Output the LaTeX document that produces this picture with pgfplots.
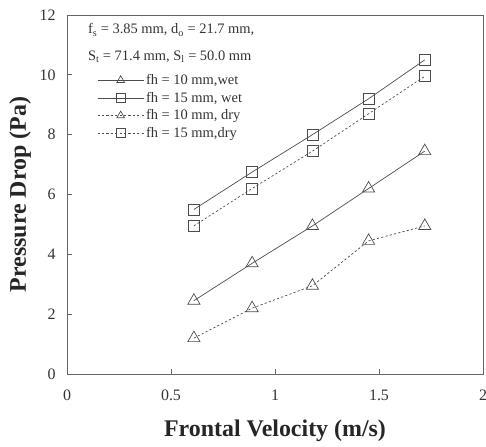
\documentclass[border=0pt]{standalone}
\usepackage{pgfplots}
\pgfplotsset{compat=1.18}
\usepackage{fontspec}
\setmainfont{Liberation Serif}
\begin{document}
\begin{tikzpicture}[x=1bp,y=1bp]
\begin{axis}[
  name=ax,
  scale only axis,
  width=416bp, height=359bp,
  xmin=0, xmax=2, ymin=0, ymax=12,
  xtick={0,0.5,1,1.5,2}, ytick={0,2,4,6,8,10,12},
  xticklabels={0,0.5,1,1.5,2},
  tick align=inside, xtick pos=bottom, ytick pos=left,
  major tick length=5bp,
  /pgf/number format/assume math mode=true,
  ticklabel style={font=\fontsize{16}{18}\selectfont, text=black!80},
  xticklabel style={yshift=-12bp},
  yticklabel style={xshift=-8bp},
  xlabel={\textbf{Frontal Velocity (m/s)}},
  xlabel style={at={(axis description cs:0.5,0)}, anchor=center, yshift=-57bp},
  label style={font=\fontsize{24}{26}\selectfont, text=black!85},
  axis line style={black!60, line width=0.9pt},
  every tick/.style={black!60, line width=0.8pt},
  legend style={draw=none, fill=none, at={(axis cs:0.14,10.12)}, anchor=north west,
    font=\fontsize{14.5}{14.5}\selectfont, row sep=2bp, inner sep=1bp, text=black!80},
  legend cell align=left,
  legend image code/.code={
    \draw[#1, mark=none] (0bp,0bp) -- (46bp,0bp);
    \draw[#1, solid, only marks, mark size=4.5bp] plot coordinates {(23bp,0bp)};
  },
  every axis plot/.append style={black!70, line width=0.7pt, mark options={solid, fill=white, line width=0.7pt}},
]
\addplot[mark=triangle, mark size=7bp] coordinates {(0.61,2.45) (0.89,3.7) (1.18,4.95) (1.45,6.2) (1.72,7.45)};
\addlegendentry{fh = 10 mm,wet}
\addplot[mark=square, mark size=5.5bp] coordinates {(0.61,5.5) (0.89,6.75) (1.18,8.0) (1.45,9.2) (1.72,10.5)};
\addlegendentry{fh = 15 mm, wet}
\addplot[dash pattern=on 2.2pt off 2.2pt, mark=triangle, mark size=7bp] coordinates {(0.61,1.2) (0.89,2.2) (1.18,2.95) (1.45,4.45) (1.72,4.95)};
\addlegendentry{fh = 10 mm, dry}
\addplot[dash pattern=on 2.2pt off 2.2pt, mark=square, mark size=5.5bp] coordinates {(0.61,4.95) (0.89,6.2) (1.18,7.45) (1.45,8.7) (1.72,9.95)};
\addlegendentry{fh = 15 mm,dry}
\node[anchor=west, font=\fontsize{14.5}{16}\selectfont, text=black!80, inner sep=0pt]
  at (axis cs:0.1,11.5) {f\textsubscript{s} = 3.85 mm, d\textsubscript{o} = 21.7 mm,};
\node[anchor=west, font=\fontsize{14.5}{16}\selectfont, text=black!80, inner sep=0pt]
  at (axis cs:0.1,10.6) {S\textsubscript{t} = 71.4 mm, S\textsubscript{l} = 50.0 mm};
\end{axis}
\node[rotate=90, anchor=center, font=\fontsize{24}{26}\selectfont, text=black!85]
  at ([xshift=-47bp]ax.west) {\textbf{Pressure Drop (Pa)}};
\pgfresetboundingbox
\path[use as bounding box] ([shift={(-67bp,-73bp)}]ax.south west) rectangle ([shift={(3bp,15bp)}]ax.north east);
\end{tikzpicture}
\end{document}
